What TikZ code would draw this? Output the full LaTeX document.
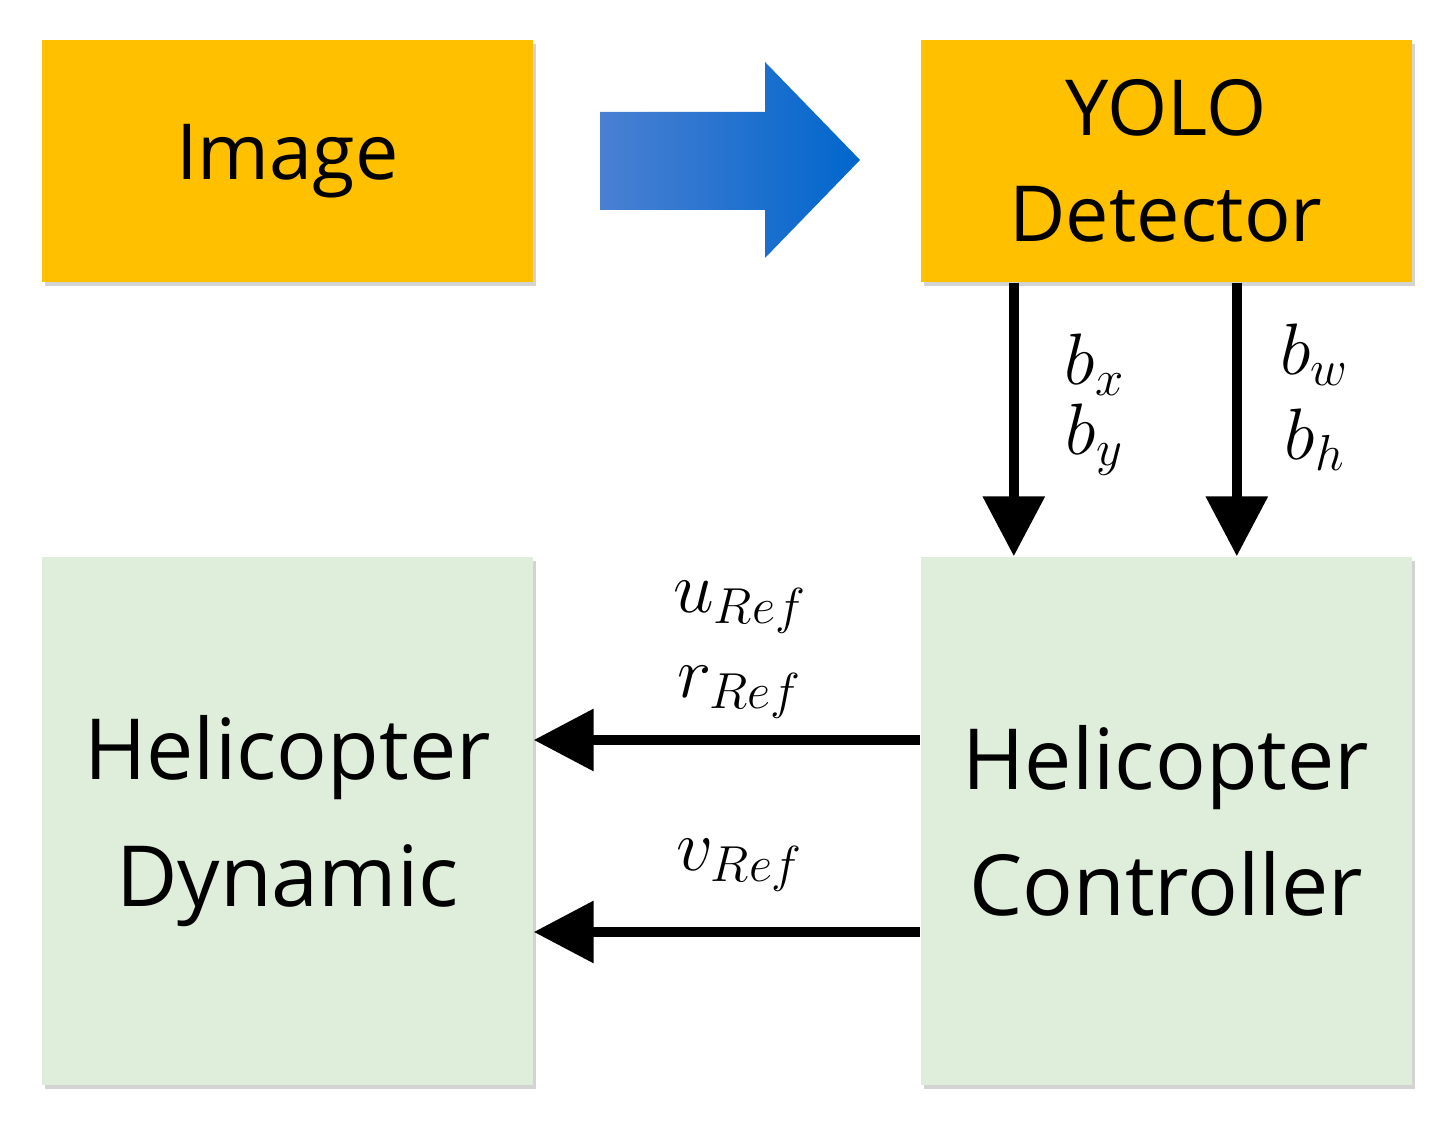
\documentclass[tikz,border=0pt]{standalone}
\usepackage{fontspec}
\setmainfont{Open Sans}
\usepackage{amsmath}
\usetikzlibrary{arrows.meta,shadows,calc}

\definecolor{boxorange}{HTML}{FFC000}
\definecolor{boxgreen}{HTML}{DEEEDA}
\definecolor{arrowblue}{HTML}{0066CC}
\definecolor{arrowlight}{HTML}{4A80D2}

\tikzset{
    block/.style={draw=none, minimum width=4.91cm, text width=4.6cm, align=center,
        drop shadow={shadow xshift=0.03cm, shadow yshift=-0.04cm, opacity=0.35}},
    small block/.style={block, fill=boxorange, minimum height=2.42cm, font=\fontsize{22}{30}\selectfont},
    big block/.style={block, fill=boxgreen, minimum height=5.28cm, font=\fontsize{24}{36}\selectfont},
    signal/.style={line width=0.1cm, -{Triangle[length=0.6cm,width=0.6cm]}},
    lbl/.style={font=\fontsize{22}{24}\selectfont, inner sep=0pt}
}

\begin{document}
\begin{tikzpicture}
    \useasboundingbox (0,0) rectangle (14.47,11.27);

    % Blocks
    \node[small block] (image) at (2.875,9.66) {Image};
    \node[small block] (yolo) at (11.66,9.66) {YOLO\\Detector};
    \node[big block] (dynamic) at (2.875,3.06) {Helicopter\\Dynamic};
    \node[big block] (controller) at (11.66,3.06) {Helicopter\\Controller};

    % Block arrow between image and detector
    \shade[left color=arrowlight, right color=arrowblue]
        (6.00,10.15) -- (7.65,10.15) -- (7.65,10.65) -- (8.60,9.67)
        -- (7.65,8.69) -- (7.65,9.17) -- (6.00,9.17) -- cycle;

    % Detector outputs
    \coordinate (bxy) at ($(yolo.south west)+(0.94,0)$);
    \coordinate (bwh) at ($(yolo.south west)+(3.17,0)$);
    \draw[signal] (bxy) -- (bxy |- controller.north);
    \draw[signal] (bwh) -- (bwh |- controller.north);
    \node[lbl] at (10.95,7.62) {$b_x$};
    \node[lbl] at (10.95,6.87) {$b_y$};
    \node[lbl] at (13.15,7.72) {$b_w$};
    \node[lbl] at (13.15,6.87) {$b_h$};

    % Controller outputs
    \coordinate (ur) at ($(controller.west)+(0,0.81)$);
    \coordinate (v) at ($(controller.west)+(0,-1.11)$);
    \draw[signal] (ur) -- (ur -| dynamic.east);
    \draw[signal] (v) -- (v -| dynamic.east);
    \node[lbl] at (7.40,5.20) {$u_{Ref}$};
    \node[lbl] at (7.40,4.35) {$r_{Ref}$};
    \node[lbl] at (7.40,2.62) {$v_{Ref}$};
\end{tikzpicture}
\end{document}
